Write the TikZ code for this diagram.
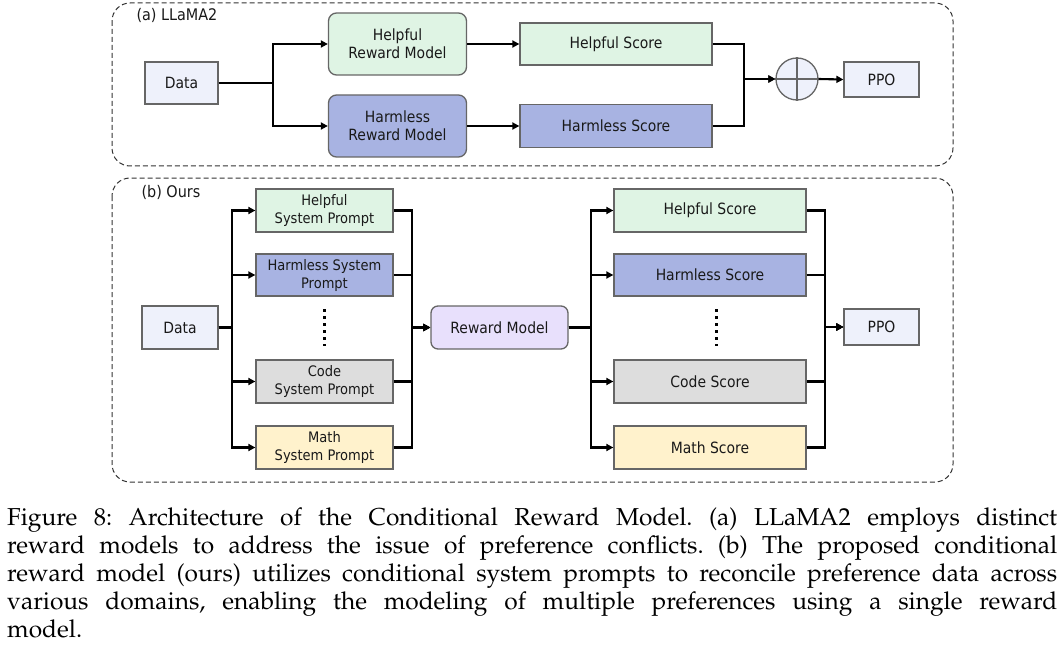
\documentclass[tikz,border=0pt]{standalone}
\usepackage[T1]{fontenc}
\usepackage{fontspec}
\usetikzlibrary{arrows.meta}
\newfontfamily\diagfont{DejaVu Sans Condensed}
\newcommand\capfont{\fontencoding{T1}\fontfamily{ppl}\selectfont\frenchspacing}
\definecolor{cdata}{HTML}{EEF1FB}
\definecolor{cgreen}{HTML}{DFF4E4}
\definecolor{cblue}{HTML}{A8B3E2}
\definecolor{cgray}{HTML}{DDDDDD}
\definecolor{cyellow}{HTML}{FFF2CC}
\definecolor{cpurple}{HTML}{E8E0FC}
\definecolor{cborder}{HTML}{666666}
\tikzset{
  box/.style={draw=cborder, line width=1.3pt, inner sep=0pt, align=center,
    font=\diagfont\fontsize{15.5}{18}\selectfont, text=black!90},
  pbox/.style={box, font=\diagfont\fontsize{14.5}{18}\selectfont},
  rbox/.style={box, rounded corners=8pt},
  arr/.style={line width=2.1pt, -{Triangle[length=7pt,width=7pt]}},
  frame/.style={draw=black!80, line width=1pt, dashed, dash pattern=on 5pt off 3pt, rounded corners=18pt},
  lbl/.style={font=\diagfont\fontsize{16}{18}\selectfont, anchor=west, text=black!90},
}
\begin{document}
\begin{tikzpicture}[x=1pt,y=-1pt]
\useasboundingbox (0,0) rectangle (1063,650);
% ---------- (a) ----------
\draw[frame] (112,3) rectangle (953,166);
\node[lbl] (la) at (133,15) {(a) LLaMA2};
\node[box, fill=cdata, minimum width=73pt, minimum height=42pt] (dataA) at (181.5,83) {Data};
\node[rbox, fill=cgreen, minimum width=138pt, minimum height=62pt] (hrmA) at (397.5,44) {Helpful\\Reward Model};
\node[rbox, fill=cblue, minimum width=138pt, minimum height=62pt] (harmA) at (397.5,126) {Harmless\\Reward Model};
\node[box, fill=cgreen, minimum width=192pt, minimum height=42pt] (hsA) at (616,44) {Helpful Score};
\node[box, fill=cblue, minimum width=192pt, minimum height=43pt] (harmsA) at (616,126) {Harmless Score};
\node[draw=cborder, line width=1.3pt, fill=cdata, circle, minimum size=42pt, inner sep=0pt] (plus) at (797,79) {};
\draw[cborder, line width=1.3pt] (plus.north) -- (plus.south) (plus.west) -- (plus.east);
\node[box, fill=cdata, minimum width=75pt, minimum height=35pt] (ppoA) at (881.5,79.5) {PPO};
\coordinate (splitA) at (273,83);
\coordinate (mergeA) at (744,79);
\draw[arr] (dataA.east) -- (splitA) |- (hrmA.west);
\draw[arr] (dataA.east) -- (splitA) |- (harmA.west);
\draw[arr] (hrmA.east) -- (hsA.west);
\draw[arr] (harmA.east) -- (harmsA.west);
\draw[arr] (hsA.east) -| (mergeA) -- (plus.west);
\draw[arr] (harmsA.east) -| (mergeA) -- (plus.west);
\draw[arr] (plus.east) -- (ppoA.west);
% ---------- (b) ----------
\draw[frame] (112,178) rectangle (953,482);
\node[lbl] (lb) at (138,192) {(b) Ours};
\node[box, fill=cdata, minimum width=76pt, minimum height=43pt] (dataB) at (180,327.5) {Data};
\node[pbox, fill=cgreen, minimum width=137pt, minimum height=43pt] (sp1) at (324.5,210.5) {Helpful\\System Prompt};
\node[pbox, fill=cblue, minimum width=137pt, minimum height=42pt] (sp2) at (324.5,275) {Harmless System\\Prompt};
\node[pbox, fill=cgray, minimum width=137pt, minimum height=43pt] (sp3) at (324.5,381.5) {Code\\System Prompt};
\node[pbox, fill=cyellow, minimum width=137pt, minimum height=43pt] (sp4) at (324.5,447.5) {Math\\System Prompt};
\draw[line width=3pt, dash pattern=on 3pt off 4pt] (324.5,309) -- (324.5,346);
\node[rbox, fill=cpurple, rounded corners=7pt, minimum width=137pt, minimum height=43pt] (rm) at (499.5,327.5) {Reward Model};
\node[box, fill=cgreen, minimum width=192pt, minimum height=43pt] (sc1) at (710,210.5) {Helpful Score};
\node[box, fill=cblue, minimum width=192pt, minimum height=42pt] (sc2) at (710,275) {Harmless Score};
\node[box, fill=cgray, minimum width=192pt, minimum height=43pt] (sc3) at (710,381.5) {Code Score};
\node[box, fill=cyellow, minimum width=192pt, minimum height=43pt] (sc4) at (710,447.5) {Math Score};
\draw[line width=3pt, dash pattern=on 3pt off 4pt] (716,309) -- (716,346);
\node[box, fill=cdata, minimum width=75pt, minimum height=36pt] (ppoB) at (881.5,327) {PPO};
\coordinate (splitB) at (232,327.5);
\coordinate (mergeB) at (412,327.5);
\coordinate (splitC) at (591,327.5);
\coordinate (mergeC) at (825,327);
\foreach \n in {sp1,sp2,sp3,sp4}{
  \draw[arr] (dataB.east) -- (splitB) |- (\n.west);
  \draw[arr] (\n.east) -| (mergeB) -- (rm.west);
}
\foreach \n in {sc1,sc2,sc3,sc4}{
  \draw[arr] (rm.east) -- (splitC) |- (\n.west);
  \draw[arr] (\n.east) -| (mergeC) -- (ppoB.west);
}
% ---------- caption ----------
\node[anchor=north west, inner sep=0pt, text width=1050pt, align=justify,
      font=\capfont\fontsize{24.5}{28}\selectfont] (cap) at (7,508) {%
Figure 8: Architecture of the Conditional Reward Model. (a) LLaMA2 employs distinct\linebreak
reward models to address the issue of preference conflicts. (b) The proposed conditional\linebreak
reward model (ours) utilizes conditional system prompts to reconcile preference data across\linebreak
various domains, enabling the modeling of multiple preferences using a single reward\linebreak
model.};
\end{tikzpicture}
\end{document}
